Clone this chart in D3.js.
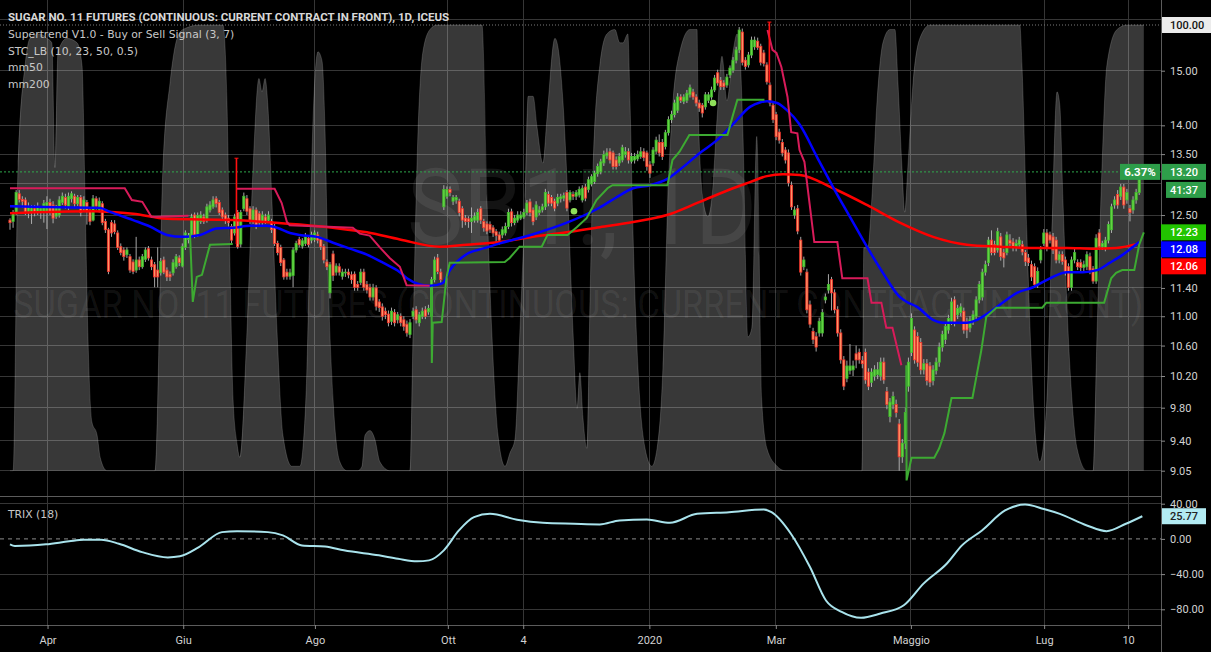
<!DOCTYPE html>
<html>
<head>
<meta charset="utf-8">
<script src="https://cdn.jsdelivr.net/npm/d3@7/dist/d3.min.js"></script>
<style>
  html, body { margin: 0; padding: 0; background: #000; }
  svg { display: block; font-family: Roboto, 'Open Sans', sans-serif; }
  .axis text { fill: #d2d2d2; font-size: 11px; }
  .axis line { stroke: #8a8a8a; }
</style>
</head>
<body>
<svg id="chart" width="1211" height="652"></svg>
<script>
// daily candles, bar index 0..367 (mid March 2019 -> mid August 2020)
const opens = [
  12.42,12.40,12.52,12.84,12.75,12.74,12.56,12.55,12.60,12.55,12.56,12.55,12.56,12.70,12.66,12.48,12.50,12.70,12.78,12.62,
  12.76,12.80,12.68,12.78,12.60,12.70,12.58,12.42,12.76,12.58,12.68,12.40,12.27,12.38,12.36,12.22,12.01,11.96,11.89,11.86,
  11.78,11.66,11.81,11.71,11.82,11.98,11.81,11.74,11.66,11.62,11.81,11.66,11.60,11.62,11.71,11.84,11.72,12.00,12.12,12.20,
  12.50,12.20,12.40,12.47,12.42,12.58,12.63,12.76,12.70,12.58,12.50,12.45,12.32,12.22,12.54,12.05,12.60,12.76,12.60,12.40,
  12.58,12.52,12.38,12.47,12.42,12.40,12.32,12.06,12.00,11.81,11.63,11.57,11.58,11.96,12.12,12.02,12.06,12.14,12.11,12.12,
  12.19,12.12,12.01,11.78,11.33,11.90,11.63,11.71,11.57,11.62,11.63,11.59,11.60,11.45,11.48,11.63,11.45,11.41,11.27,11.40,
  11.20,11.13,11.07,11.03,10.93,11.05,10.95,11.00,10.95,10.89,10.75,11.00,11.09,10.91,11.00,11.09,11.06,11.00,11.52,11.84,
  11.63,12.63,12.80,12.91,12.72,12.74,12.72,12.60,12.45,12.44,12.40,12.42,12.42,12.60,12.40,12.36,12.35,12.30,12.24,12.19,
  12.19,12.22,12.32,12.55,12.38,12.42,12.45,12.47,12.54,12.71,12.58,12.47,12.54,12.58,12.63,12.83,12.78,12.72,12.69,12.76,
  12.77,12.86,12.74,12.83,12.80,12.82,12.74,12.95,12.91,13.00,13.04,13.17,13.20,13.35,13.47,13.54,13.52,13.40,13.35,13.40,
  13.49,13.54,13.38,13.40,13.42,13.46,13.54,13.52,13.32,13.35,13.55,13.70,13.70,13.63,13.87,14.10,14.19,14.27,14.51,14.43,
  14.45,14.55,14.60,14.51,14.40,14.36,14.33,14.45,14.51,14.64,14.96,14.82,14.77,14.73,14.92,15.01,15.20,15.40,15.75,15.20,
  15.11,15.30,15.46,15.57,15.47,15.34,15.11,14.73,14.36,14.19,13.88,13.70,13.57,13.52,12.98,12.50,12.60,12.11,11.71,11.63,
  11.16,10.79,10.72,10.77,10.77,11.23,11.37,11.52,11.33,11.09,10.77,10.41,10.17,10.27,10.28,10.49,10.51,10.40,10.51,10.25,
  10.12,10.20,10.22,10.20,10.38,10.00,9.69,9.84,9.84,9.60,9.21,9.37,10.07,10.51,10.81,10.72,10.64,10.28,10.36,10.33,
  10.14,10.27,10.38,10.58,10.68,10.81,10.93,11.23,11.02,11.05,11.07,10.93,10.84,10.93,11.00,11.23,11.27,11.63,11.77,12.11,
  12.04,11.96,12.16,11.92,11.92,12.11,12.08,12.00,12.04,12.04,11.92,11.84,11.74,11.71,11.45,11.81,12.06,12.22,12.19,12.16,
  12.11,11.81,11.89,11.81,11.71,11.41,11.81,11.77,11.77,11.70,11.71,11.86,11.68,11.50,12.22,12.01,11.99,12.11,12.27,12.66,
  12.83,12.80,12.95,12.74,12.60,12.58,12.74,12.86
]
const highs = [
  12.45,12.58,12.90,12.90,12.80,12.78,12.70,12.66,12.66,12.70,12.64,12.74,12.80,12.76,12.72,12.66,12.80,12.86,12.84,12.86,
  12.88,12.84,12.82,12.82,12.80,12.74,12.62,12.82,12.80,12.78,12.72,12.44,12.30,12.42,12.42,12.26,12.06,12.00,12.00,11.90,
  11.82,12.16,11.86,11.90,12.00,12.02,11.86,11.78,12.00,11.84,11.86,11.70,11.64,11.82,11.90,11.88,12.06,12.26,12.22,12.52,
  12.54,12.54,12.56,12.52,12.68,12.72,12.80,12.80,12.74,12.62,12.54,12.50,12.36,12.52,12.58,12.58,12.86,12.82,12.64,12.64,
  12.62,12.56,12.56,12.52,12.56,12.44,12.36,12.10,12.04,11.84,11.68,11.68,12.00,12.10,12.16,12.14,12.22,12.18,12.24,12.26,
  12.24,12.16,12.05,11.82,11.78,11.95,11.76,11.76,11.68,11.68,11.68,11.64,11.64,11.50,11.68,11.68,11.50,11.46,11.46,11.44,
  11.24,11.18,11.12,11.08,11.12,11.10,11.06,11.04,11.00,10.94,10.96,11.12,11.14,11.06,11.12,11.14,11.16,11.56,11.86,11.90,
  11.68,12.98,12.96,12.96,12.82,12.82,12.76,12.64,12.50,12.48,12.62,12.54,12.60,12.64,12.44,12.40,12.40,12.34,12.28,12.24,
  12.32,12.38,12.60,12.60,12.50,12.56,12.56,12.60,12.74,12.76,12.62,12.72,12.64,12.68,12.92,12.88,12.82,12.76,12.84,12.84,
  12.86,12.90,12.90,12.88,12.90,12.96,12.98,13.00,13.12,13.16,13.22,13.34,13.42,13.56,13.60,13.60,13.56,13.46,13.52,13.66,
  13.62,13.60,13.52,13.52,13.56,13.62,13.60,13.56,13.38,13.62,13.80,13.84,13.76,13.92,14.16,14.26,14.46,14.58,14.56,14.56,
  14.64,14.74,14.66,14.56,14.46,14.40,14.60,14.60,14.70,14.92,15.02,14.88,14.82,14.94,15.10,15.26,15.46,15.85,15.82,15.26,
  15.36,15.66,15.66,15.64,15.52,15.40,15.16,14.78,14.42,14.24,13.94,13.76,13.62,13.58,13.04,12.64,12.66,12.16,11.86,11.68,
  11.22,10.84,10.78,10.98,11.10,11.32,11.60,11.56,11.38,11.14,10.82,10.46,10.40,10.62,10.40,10.60,10.56,10.46,10.56,10.30,
  10.30,10.34,10.38,10.44,10.44,10.06,9.92,10.00,9.90,9.66,9.42,9.80,10.44,11.04,10.86,10.78,10.70,10.42,10.42,10.38,
  10.34,10.44,10.64,10.80,10.92,11.02,11.26,11.28,11.16,11.18,11.12,10.98,11.00,11.08,11.28,11.50,11.68,11.80,12.16,12.26,
  12.10,12.30,12.22,11.98,12.24,12.20,12.14,12.12,12.16,12.10,11.96,11.90,11.80,11.76,11.70,12.02,12.28,12.28,12.24,12.22,
  12.16,11.94,11.94,11.86,11.76,11.86,11.98,11.82,11.82,11.80,11.94,11.92,11.72,12.20,12.28,12.10,12.16,12.40,12.68,12.80,
  12.90,13.00,13.00,12.92,12.66,12.80,12.92,13.24
]
const lows = [
  12.27,12.30,12.50,12.70,12.62,12.50,12.45,12.36,12.48,12.50,12.44,12.38,12.28,12.50,12.37,12.44,12.46,12.66,12.60,12.58,
  12.70,12.62,12.64,12.48,12.56,12.35,12.34,12.40,12.58,12.54,12.34,12.22,11.60,12.16,12.20,11.96,11.88,11.80,11.84,11.62,
  11.60,11.62,11.66,11.68,11.78,11.80,11.66,11.41,11.41,11.58,11.60,11.50,11.50,11.58,11.68,11.72,11.70,11.96,12.06,12.16,
  12.14,12.16,12.36,12.36,12.38,12.54,12.60,12.62,12.50,12.42,12.36,12.32,12.06,12.18,11.98,12.00,12.56,12.50,12.36,12.36,
  12.28,12.34,12.34,12.36,12.38,12.22,12.02,11.88,11.72,11.52,11.52,11.52,11.41,11.92,12.00,11.98,12.02,12.00,12.06,12.08,
  12.06,11.96,11.76,11.66,11.25,11.50,11.58,11.58,11.52,11.56,11.54,11.46,11.36,11.36,11.44,11.36,11.32,11.22,11.22,11.08,
  11.06,10.94,10.96,10.86,10.88,10.86,10.90,10.86,10.80,10.72,10.70,10.96,10.90,10.86,10.96,10.96,11.02,10.95,11.48,11.60,
  11.46,12.58,12.76,12.80,12.66,12.68,12.48,12.30,12.34,12.30,12.22,12.38,12.38,12.36,12.24,12.20,12.22,12.16,12.06,12.04,
  12.14,12.18,12.28,12.32,12.34,12.38,12.42,12.44,12.50,12.48,12.34,12.42,12.50,12.54,12.58,12.64,12.64,12.56,12.64,12.70,
  12.72,12.56,12.70,12.74,12.74,12.78,12.70,12.72,12.86,12.96,13.00,13.12,13.16,13.30,13.42,13.34,13.24,13.24,13.30,13.36,
  13.44,13.34,13.34,13.34,13.38,13.42,13.38,13.22,13.10,13.30,13.50,13.46,13.40,13.58,13.82,14.04,14.14,14.22,14.40,14.38,
  14.40,14.50,14.46,14.34,14.24,14.14,14.28,14.40,14.46,14.60,14.72,14.64,14.64,14.68,14.86,14.96,15.14,15.34,15.10,15.02,
  15.06,15.24,15.40,15.40,15.10,15.08,14.74,14.34,14.04,13.74,13.68,13.46,13.34,12.96,12.58,12.44,12.20,11.58,11.66,11.04,
  10.84,10.62,10.52,10.72,10.72,11.18,11.32,11.08,11.04,10.72,10.36,10.02,10.12,10.22,10.20,10.30,10.36,10.30,10.10,10.02,
  10.06,10.14,10.16,10.14,10.10,9.78,9.62,9.78,9.68,9.05,9.14,9.30,10.00,10.46,10.36,10.32,10.22,10.22,10.08,10.06,
  10.08,10.22,10.32,10.52,10.62,10.76,10.88,10.86,10.96,11.00,10.76,10.70,10.78,10.88,10.96,11.18,11.22,11.58,11.72,11.88,
  11.88,11.92,11.80,11.70,11.88,12.02,11.94,11.94,12.00,11.88,11.72,11.72,11.50,11.40,11.40,11.76,12.02,11.94,12.06,11.90,
  11.76,11.76,11.74,11.58,11.36,11.36,11.76,11.66,11.64,11.62,11.66,11.60,11.46,11.46,11.96,11.96,11.94,12.06,12.22,12.60,
  12.60,12.74,12.60,12.68,12.40,12.52,12.68,12.82
]
const closes = [
  12.38,12.54,12.86,12.75,12.72,12.55,12.62,12.60,12.54,12.62,12.60,12.68,12.70,12.55,12.45,12.62,12.74,12.80,12.66,12.80,
  12.84,12.68,12.78,12.54,12.74,12.55,12.40,12.76,12.64,12.72,12.38,12.27,11.64,12.22,12.24,12.00,11.92,11.86,11.96,11.66,
  11.64,11.81,11.71,11.86,11.96,11.84,11.71,11.56,11.56,11.79,11.63,11.56,11.56,11.77,11.86,11.77,12.01,12.22,12.18,12.47,
  12.19,12.49,12.50,12.40,12.63,12.66,12.74,12.68,12.54,12.47,12.42,12.38,12.11,12.47,12.01,12.54,12.80,12.56,12.42,12.58,
  12.32,12.38,12.50,12.40,12.50,12.27,12.06,11.92,11.77,11.56,11.57,11.62,11.96,12.06,12.04,12.10,12.16,12.04,12.19,12.22,
  12.11,12.01,11.81,11.71,11.74,11.58,11.72,11.63,11.63,11.63,11.59,11.52,11.41,11.41,11.63,11.41,11.37,11.27,11.40,11.14,
  11.12,11.00,11.02,10.91,11.07,10.91,11.02,10.91,10.86,10.77,10.91,11.07,10.95,11.02,11.07,11.00,11.11,11.52,11.81,11.64,
  11.52,12.91,12.91,12.86,12.78,12.78,12.54,12.42,12.40,12.40,12.45,12.48,12.54,12.42,12.30,12.25,12.27,12.22,12.18,12.11,
  12.27,12.32,12.54,12.38,12.45,12.50,12.50,12.54,12.69,12.54,12.40,12.66,12.58,12.63,12.86,12.69,12.69,12.61,12.78,12.79,
  12.81,12.61,12.86,12.80,12.86,12.91,12.93,12.77,13.07,13.12,13.18,13.29,13.37,13.49,13.52,13.40,13.29,13.29,13.46,13.61,
  13.54,13.40,13.46,13.46,13.49,13.54,13.44,13.29,13.18,13.57,13.74,13.52,13.46,13.87,14.10,14.19,14.40,14.51,14.45,14.51,
  14.58,14.68,14.51,14.40,14.31,14.22,14.55,14.55,14.64,14.86,14.77,14.70,14.70,14.88,15.05,15.20,15.40,15.79,15.16,15.08,
  15.30,15.59,15.59,15.45,15.16,15.14,14.79,14.40,14.10,13.80,13.74,13.52,13.40,13.02,12.63,12.58,12.25,11.63,11.81,11.09,
  10.89,10.68,10.58,10.93,11.05,11.27,11.45,11.33,11.09,10.77,10.41,10.07,10.33,10.33,10.33,10.41,10.41,10.36,10.15,10.07,
  10.25,10.28,10.28,10.38,10.15,9.84,9.87,9.94,9.74,9.21,9.37,9.74,10.38,10.97,10.41,10.38,10.28,10.36,10.14,10.12,
  10.28,10.38,10.58,10.75,10.86,10.97,11.20,10.91,11.11,11.13,10.81,10.81,10.95,11.02,11.23,11.45,11.63,11.74,12.11,11.92,
  11.92,12.24,11.86,11.84,12.19,12.06,12.00,12.06,12.11,11.93,11.79,11.77,11.56,11.45,11.64,11.96,12.22,12.00,12.11,11.96,
  11.81,11.89,11.79,11.63,11.41,11.81,11.92,11.71,11.70,11.74,11.89,11.66,11.50,12.14,12.01,12.06,12.11,12.35,12.63,12.74,
  12.66,12.95,12.66,12.86,12.54,12.74,12.86,13.20
]

// moving averages [bar, value]
const mm50 = [[0,12.64],[8,12.63],[29.3,12.61],[32.5,12.55],[40,12.42],[45.5,12.32],[51,12.19],[56.2,12.16],[61.8,12.19],
  [67.2,12.29],[72.5,12.30],[78,12.33],[83.5,12.33],[86.8,12.30],[91,12.22],[94.2,12.19],[99.8,12.16],[105,12.07],[110.5,11.98],
  [116,11.89],[121.2,11.77],[126.7,11.63],[129,11.54],[133.2,11.45],[136.5,11.43],[140.6,11.47],[143,11.66],[148.5,11.90],
  [153.6,11.98],[159.2,12.06],[170,12.20],[181,12.38],[191.7,12.62],[197,12.78],[202.5,12.93],[208,12.98],[213.5,13.08],
  [218.7,13.28],[224.2,13.52],[229.8,13.74],[235,14.02],[240.5,14.33],[243.7,14.41],[246,14.43],[249.3,14.40],[252.5,14.27],
  [256.7,14.01],[262.3,13.45],[267.5,12.95],[273,12.47],[278.5,12.01],[283.7,11.62],[289.2,11.27],[291.5,11.20],[294.8,11.13],
  [300,10.95],[303.2,10.91],[311,10.91],[314.3,10.95],[318.5,11.06],[321.7,11.16],[327.3,11.33],[332.5,11.41],[338,11.54],
  [343.5,11.63],[348.7,11.63],[353.3,11.66],[357.5,11.77],[361.7,11.89],[367,12.08]]
const mm200 = [[0,12.53],[27,12.56],[40,12.52],[51,12.44],[72.4,12.42],[94.2,12.35],[104.9,12.30],[116,12.23],[126.7,12.12],
  [139.7,12.01],[148.4,12.04],[159.1,12.08],[169.9,12.16],[180.9,12.23],[191.7,12.31],[202.5,12.39],[213.5,12.50],[224.2,12.71],
  [235,12.93],[240.5,13.03],[246,13.13],[251.2,13.16],[256.7,13.15],[267.5,12.93],[278.5,12.66],[289.2,12.38],[300,12.16],
  [311,12.04],[321.7,12.01],[332.5,11.99],[343.5,11.99],[352,11.98],[359.5,11.99],[367,12.06]]

// supertrend (3, 7): sell-side and buy-side segments [bar, value]
const stDown = [
  [[0,12.93],[37.3,12.93],[39.6,12.74],[43,12.71],[46,12.47],[58,12.49]],
  [[73.7,12.92],[86,12.92],[88.3,12.69],[90,12.39],[90.9,12.34],[111.4,12.30],[113.7,12.21],[116.9,12.18],[120.2,12.00],
   [123.4,11.84],[126.7,11.71],[128.9,11.44],[136.4,11.43]],
  [[246.2,15.79],[247.8,15.40],[249.1,15.34],[250.7,15.07],[252.7,14.51],[253.9,13.88],[255.9,13.86],[256.6,13.57],[258.2,13.37],
   [261.4,12.08],[268.9,12.08],[270.5,11.54],[278.7,11.54],[280,11.19],[283.2,11.19],[284.8,10.84],[286.8,10.84],[289.7,10.34]]
]
const stUp = [
  [[58.5,12.22],[59.4,11.20],[60.7,11.56],[62.4,11.59],[65,12.04],[72.4,12.05]],
  [[137,11.41],[137.1,10.37],[137.4,10.91],[140.3,10.92],[141.9,11.56],[142.9,11.77],[160.8,11.78],[162.4,11.84],[165.6,12.01],
   [172.8,12.01],[174.7,12.19],[181.2,12.19],[184.2,12.31],[187.4,12.45],[190.6,12.74],[194.2,12.93],[195.8,12.98],[213.7,12.98],
   [215.3,13.40],[217.6,13.54],[220.8,13.83],[233.2,13.83],[234.8,14.15],[236.4,14.46],[245.2,14.46]],
  [[291.3,10.34],[291.4,8.94],[293,9.20],[300.4,9.20],[302,9.31],[303.7,9.49],[306,9.92],[312.8,9.92],[315.7,10.54],[317.3,10.99],
   [320.6,11.12],[335.5,11.12],[336.8,11.19],[355.6,11.19],[357.9,11.54],[359.5,11.62],[361.5,11.66],[365.4,11.66],[367,12.04],[368.5,12.23]]
]
const sellSpikes = [[73.6,13.43,12.05],[246.8,15.95,14.77]]
const buyDots = [[183.3,12.56],[228.5,14.40]]

// STC_LB (10, 23, 50, 0.5) [bar, value]
const stc = [[0,0],[1,0],[2.6,68],[4.9,91],[6.5,97],[9.7,98],[12,97],[13.6,96],[14.6,68],[15.6,94],[18.5,97],[21.8,96],[23.4,91],
  [24.4,61],[25.3,31],[26.6,11],[28.3,8],[29.3,3],[31.5,0],[47.1,0],[49.7,68],[52,87],[54.3,97],[56.2,99],[61.7,100],[69.2,100],
  [70.5,83],[71.5,46],[72.5,16],[73.8,6],[74.7,3],[77,31],[79,68],[80.9,88],[81.9,85],[82.9,88],[83.8,82],[85.1,61],[86.8,31],
  [88.7,8],[91.6,1],[94.2,1],[95.2,5],[96.5,23],[97.5,53],[98.5,79],[100.1,94],[101.4,92],[102.4,76],[103.3,46],[105,16],[107.2,2],
  [109.5,0],[113.1,0],[114.4,1],[115.4,8],[117,9],[118.6,7],[120.2,2],[123.5,0],[130,0],[131,31],[132.6,76],[134.2,94],[136.5,99],
  [138.8,100],[153.4,100],[155,61],[156.6,31],[158.6,8],[160.9,1],[162.5,4],[164.1,7],[165.7,31],[167.4,61],[168.4,84],[170,84],
  [171.3,77],[173.2,69],[174.5,79],[177.1,97],[178.1,95],[179.7,83],[181.3,61],[183,31],[184.3,14],[185.2,22],[186.2,12],[187.5,5],
  [188.5,38],[189.5,68],[191.7,91],[194,98],[196.6,99],[198.2,96],[199.2,96],[200.8,98],[201.5,83],[202.5,53],[204.1,23],[206.4,5],
  [208.6,1],[210.3,5],[212.2,23],[213.8,61],[215.5,83],[217.7,94],[221,99],[223.3,99],[223.6,83],[225.2,61],[226.8,57],[228.1,61],
  [229.8,79],[231.4,93],[233,83],[235,94],[236.3,98],[237.2,94],[238.2,76],[239.8,30],[241.1,32],[242.7,75],[244.3,16],[246,5],
  [249.3,1],[251.9,0],[276.9,0],[277.5,50],[278.8,50],[280.1,61],[281.8,83],[283.7,96],[286,99],[287.6,99],[288.6,87],[289.9,68],
  [290.8,58],[291.8,68],[293.5,87],[295.7,97],[299,100],[328.2,100],[328.9,91],[330.5,53],[332.5,16],[334.7,2],[337,16],[338.6,53],
  [340.3,85],[341.2,82],[342.2,61],[344.5,23],[346.8,5],[350,0],[352,0],[353.3,31],[354.9,68],[356.5,91],[359.8,99],[363.1,100],[368.5,100]]

// TRIX (18) [bar, value]
const trix = [[0,-6.2],[1.6,-8.1],[11.7,-6.2],[19.2,-2.8],[24,-1],[29.6,-1],[35.4,-5.5],[42.9,-15],[51.3,-21],[55.2,-19.8],
  [61.4,-9.3],[68.9,7.7],[73.8,8.8],[83.8,7.7],[88.7,4],[94.9,-7.4],[102.4,-8.5],[108.5,-13],[119.9,-18.7],[126.1,-22.5],
  [132.3,-25.5],[136.2,-24.4],[141,-13],[145.9,9.6],[150.8,24.7],[156,28.5],[164.8,21.8],[173.2,18.3],[183.3,17.2],[191.7,16.5],
  [198.1,21],[207,22],[214.5,18.3],[223.3,28.5],[233.7,30.4],[245,33.4],[247.5,30.4],[253.8,5.9],[260,-32],[265.2,-70],
  [270.3,-83],[276.6,-89.7],[282.9,-84.8],[290.5,-75.4],[296.9,-50.8],[304.5,-28],[309.4,-7.4],[315.9,9.6],[323.4,32.3],
  [329.9,39],[336,34],[341.2,28.5],[350,15.3],[356.4,8.8],[362.7,17.2],[368,25.77]]

// grid levels, and the levels whose label is not hidden behind a value badge
const priceTicks = [16, 15, 14, 13.5, 13, 12.5, 12, 11.4, 11, 10.6, 10.2, 9.8, 9.4, 9.05]
const priceTickLabels = [15, 14, 13.5, 12.5, 11.4, 11, 10.6, 10.2, 9.8, 9.4, 9.05]
const trixTicks = [40, 0, -40, -80]
const timeLabels = ['Apr', 'Giu', 'Ago', 'Ott', '4', '2020', 'Mar', 'Maggio', 'Lug', '10']
const timeIdx = [12.2, 56.3, 99.1, 142.3, 166.8, 207.8, 248.9, 292.8, 336.1, 363.4]

let chart = d3.select('#chart')
let chartWidth = 1211
let chartHeight = 652
let plotRight = 1161
let mainBottom = 496
let trixBottom = 625

let x = d3.scaleLinear().domain([0, 367]).range([10, 1139.2])
let y = d3.scaleLog().domain([9.05, 15]).range([470.7, 70.7])
let yStc = d3.scaleLinear().domain([0, 100]).range([470.7, 25])
let yTrix = d3.scaleLinear().domain([-80, 40]).range([609.3, 503.7])

let defs = chart.append('defs')
defs.append('clipPath').attr('id', 'clip-main').append('rect')
    .attr('width', plotRight).attr('height', mainBottom)
defs.append('clipPath').attr('id', 'clip-trix').append('rect')
    .attr('y', mainBottom).attr('width', plotRight).attr('height', trixBottom - mainBottom)

chart.append('rect').attr('width', chartWidth).attr('height', chartHeight).attr('fill', '#000')

// grid
let grid = chart.append('g').attr('stroke', '#363636').attr('shape-rendering', 'crispEdges')
grid.selectAll('.vgrid').data(timeIdx).enter().append('line')
    .attr('x1', (d) => x(d)).attr('x2', (d) => x(d))
    .attr('y1', 0).attr('y2', trixBottom)
grid.selectAll('.hgrid').data(priceTicks).enter().append('line')
    .attr('x1', 0).attr('x2', plotRight)
    .attr('y1', (d) => y(d)).attr('y2', (d) => y(d))
grid.selectAll('.tgrid').data(trixTicks.filter((d) => d != 0)).enter().append('line')
    .attr('x1', 0).attr('x2', plotRight)
    .attr('y1', (d) => yTrix(d)).attr('y2', (d) => yTrix(d))

// watermark, squeezed horizontally to the width it has in the picture
let mark = chart.append('g').attr('fill', 'rgba(255,255,255,0.075)').attr('text-anchor', 'middle')
let wm1 = mark.append('text').attr('x', 0).attr('y', 0).attr('font-size', 106).text('SB1!, 1D')
wm1.attr('transform', 'translate(582,244) scale(' + (350 / wm1.node().getComputedTextLength()) + ',1)')
let wm2 = mark.append('text').attr('x', 0).attr('y', 0).attr('font-size', 38)
    .text('SUGAR NO. 11 FUTURES (CONTINUOUS: CURRENT CONTRACT IN FRONT)')
wm2.attr('transform', 'translate(578,318) scale(' + (1130 / wm2.node().getComputedTextLength()) + ',1)')

let main = chart.append('g').attr('clip-path', 'url(#clip-main)')

// STC area
let stcArea = d3.area().x((d) => x(d[0])).y0(yStc(0)).y1((d) => yStc(d[1])).curve(d3.curveMonotoneX)
let stcLine = d3.line().x((d) => x(d[0])).y((d) => yStc(d[1])).curve(d3.curveMonotoneX)
main.append('path').datum(stc).attr('d', stcArea).attr('fill', 'rgba(255,255,255,0.22)')
main.append('path').datum(stc).attr('d', stcLine).attr('fill', 'none')
    .attr('stroke', 'rgba(255,255,255,0.16)').attr('stroke-width', 1)

// reference lines
main.append('line').attr('x1', 0).attr('x2', plotRight).attr('y1', 25).attr('y2', 25)
    .attr('stroke', '#7a7a7a').attr('stroke-dasharray', '1,2')
main.append('line').attr('x1', 0).attr('x2', plotRight).attr('y1', y(13.2)).attr('y2', y(13.2))
    .attr('stroke', '#2fa84c').attr('stroke-dasharray', '2,2')

// candles
let bars = main.append('g').selectAll('g').data(d3.range(closes.length)).enter().append('g')
bars.append('line')
    .attr('x1', (i) => x(i)).attr('x2', (i) => x(i))
    .attr('y1', (i) => y(highs[i])).attr('y2', (i) => y(lows[i]))
    .attr('stroke', '#b9b9b9').attr('stroke-width', 0.9)
bars.append('rect')
    .attr('x', (i) => x(i) - 1.1)
    .attr('width', 2.2)
    .attr('y', (i) => y(Math.max(opens[i], closes[i])))
    .attr('height', (i) => Math.max(0.8, Math.abs(y(opens[i]) - y(closes[i]))))
    .attr('fill', (i) => closes[i] >= opens[i] ? '#63d443' : '#ff9466')
    .attr('stroke', (i) => closes[i] >= opens[i] ? '#40b82c' : '#f0302a')
    .attr('stroke-width', 0.8)

// moving averages
let priceLine = d3.line().x((d) => x(d[0])).y((d) => y(d[1])).curve(d3.curveMonotoneX)
main.append('path').datum(mm200).attr('d', priceLine).attr('fill', 'none')
    .attr('stroke', '#ff0000').attr('stroke-width', 2.5)
main.append('path').datum(mm50).attr('d', priceLine).attr('fill', 'none')
    .attr('stroke', '#0000ff').attr('stroke-width', 2.5)

// supertrend
let stepLine = d3.line().x((d) => x(d[0])).y((d) => y(d[1]))
main.selectAll('.st-down').data(stDown).enter().append('path')
    .attr('d', stepLine).attr('fill', 'none').attr('stroke', '#d81b5a').attr('stroke-width', 2)
main.selectAll('.st-up').data(stUp).enter().append('path')
    .attr('d', stepLine).attr('fill', 'none').attr('stroke', '#3daa32').attr('stroke-width', 2)
main.selectAll('.spike').data(sellSpikes).enter().append('line')
    .attr('x1', (d) => x(d[0])).attr('x2', (d) => x(d[0]))
    .attr('y1', (d) => y(d[1])).attr('y2', (d) => y(d[2]))
    .attr('stroke', '#ff1010').attr('stroke-width', 1.6)
main.selectAll('.spike-cap').data(sellSpikes).enter().append('line')
    .attr('x1', (d) => x(d[0]) - 2).attr('x2', (d) => x(d[0]) + 2)
    .attr('y1', (d) => y(d[1])).attr('y2', (d) => y(d[1]))
    .attr('stroke', '#ff1010').attr('stroke-width', 1)
main.selectAll('.dot').data(buyDots).enter().append('circle')
    .attr('cx', (d) => x(d[0])).attr('cy', (d) => y(d[1])).attr('r', 3.3)
    .attr('fill', '#8fe05a')

// TRIX panel
let trixPane = chart.append('g').attr('clip-path', 'url(#clip-trix)')
trixPane.append('line').attr('x1', 0).attr('x2', plotRight).attr('y1', yTrix(0)).attr('y2', yTrix(0))
    .attr('stroke', '#8c8c8c').attr('stroke-dasharray', '4,4')
trixPane.append('path').datum(trix)
    .attr('d', d3.line().x((d) => x(d[0])).y((d) => yTrix(d[1])).curve(d3.curveMonotoneX))
    .attr('fill', 'none').attr('stroke', '#a9e3ec').attr('stroke-width', 2)

// panel borders
let borders = chart.append('g').attr('stroke', '#5c5c5c').attr('shape-rendering', 'crispEdges')
borders.append('line').attr('x1', 0).attr('x2', plotRight).attr('y1', mainBottom).attr('y2', mainBottom)
borders.append('line').attr('x1', 0).attr('x2', plotRight).attr('y1', trixBottom).attr('y2', trixBottom)
borders.append('line').attr('x1', plotRight).attr('x2', plotRight).attr('y1', 0).attr('y2', chartHeight)

// axes
let priceAxis = d3.axisRight(y).tickValues(priceTickLabels).tickFormat(d3.format('.2f')).tickSize(4).tickPadding(5)
chart.append('g').attr('class', 'axis').attr('transform', 'translate(' + plotRight + ',0)')
    .call(priceAxis).select('.domain').remove()
let trixAxis = d3.axisRight(yTrix).tickValues(trixTicks).tickFormat(d3.format('.2f')).tickSize(4).tickPadding(5)
chart.append('g').attr('class', 'axis').attr('transform', 'translate(' + plotRight + ',0)')
    .call(trixAxis).select('.domain').remove()
let timeAxis = d3.axisBottom(x).tickValues(timeIdx).tickFormat((d, i) => timeLabels[i]).tickSize(4).tickPadding(7)
chart.append('g').attr('class', 'axis').attr('transform', 'translate(0,' + trixBottom + ')')
    .call(timeAxis).select('.domain').remove()
chart.selectAll('.axis text').attr('font-family', 'Roboto, sans-serif')

// value badges on the right scale
function scaleLabel(yc, txt, bg, fg, x0, w) {
    let g = chart.append('g')
    g.append('rect').attr('x', x0).attr('y', yc - 8).attr('width', w).attr('height', 16).attr('fill', bg)
    g.append('text').attr('x', 1170).attr('y', yc + 4).attr('fill', fg).attr('font-size', 11)
        .attr('font-weight', 500).text(txt)
}
scaleLabel(yStc(100), '100.00', '#ececec', '#111', 1162, 49)
scaleLabel(y(13.2), '13.20', '#2e9e4a', '#fff', 1162, 44)
scaleLabel(y(13.2) + 18, '41:37', '#2e9e4a', '#fff', 1166, 40)
let lastVals = [[12.23, '#22c400'], [12.08, '#0000ff'], [12.06, '#ff0000']]
let prevY = -100
lastVals.forEach((d) => {
    let yc = Math.max(y(d[0]), prevY + 17)
    prevY = yc
    scaleLabel(yc, d3.format('.2f')(d[0]), d[1], '#fff', 1161, 45)
})
scaleLabel(yTrix(25.77), '25.77', '#b2ebf2', '#222', 1162, 44)

// change badge
chart.append('rect').attr('x', 1120).attr('y', y(13.2) - 8).attr('width', 40).attr('height', 16).attr('fill', '#2e9e4a')
chart.append('text').attr('x', 1140).attr('y', y(13.2) + 4).attr('text-anchor', 'middle')
    .attr('fill', '#fff').attr('font-size', 11.5).attr('font-weight', 700).text('6.37%')

// legend
let legend = chart.append('g').attr('fill', '#d8d8d8')
legend.append('text').attr('x', 8).attr('y', 20.5).attr('font-weight', 700).attr('font-size', 11.5)
    .text('SUGAR NO. 11 FUTURES (CONTINUOUS: CURRENT CONTRACT IN FRONT), 1D, ICEUS')
let legendRows = ['Supertrend V1.0 - Buy or Sell Signal (3, 7)', 'STC_LB (10, 23, 50, 0.5)', 'mm50', 'mm200']
legend.selectAll('.row').data(legendRows).enter().append('text')
    .attr('x', 8).attr('y', (d, i) => 37.7 + i * 16.8)
    .attr('fill', '#c8c8c8').attr('font-family', "'DejaVu Sans', sans-serif").attr('font-size', 10.8)
    .text((d) => d)
chart.append('text').attr('x', 8).attr('y', 518).attr('fill', '#c8c8c8')
    .attr('font-family', "'DejaVu Sans', sans-serif").attr('font-size', 10.8).text('TRIX (18)')
</script>
</body>
</html>
